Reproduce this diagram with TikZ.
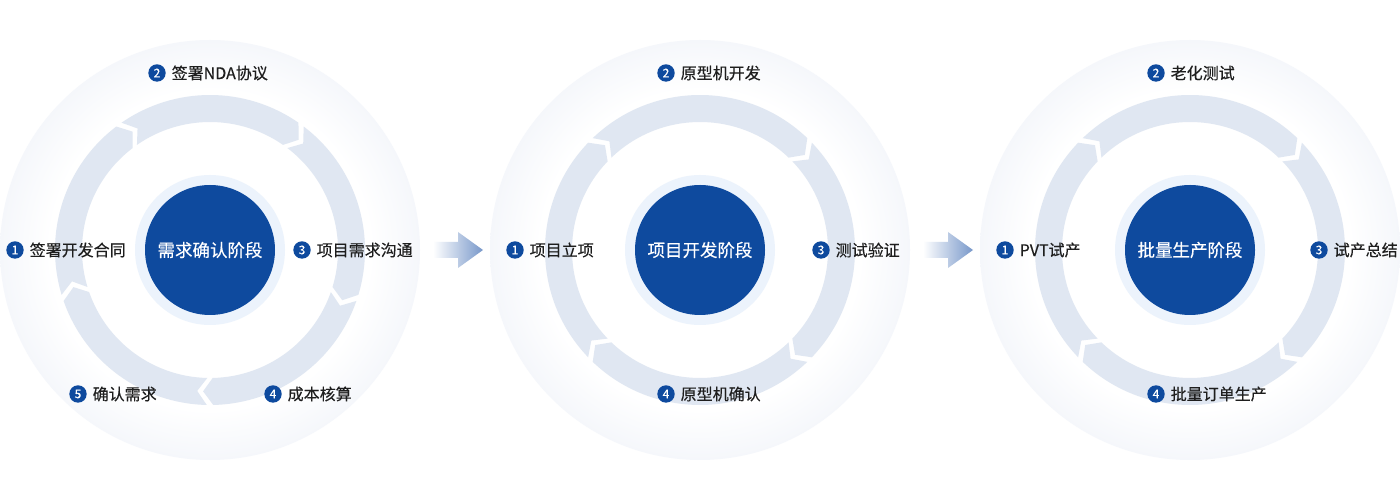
\documentclass[tikz,border=0pt]{standalone}
\usepackage{fontspec}
\newfontfamily\cjk{Noto Sans CJK SC}
\newfontfamily\cjkm[FakeBold=0.35]{Noto Sans CJK SC}
\usetikzlibrary{calc}
\definecolor{mainblue}{RGB}{14,74,158}
\definecolor{txt}{RGB}{30,30,30}
\definecolor{segcol}{RGB}{224,231,242}
\definecolor{halo}{RGB}{236,243,252}
\definecolor{arrowblue}{RGB}{120,152,202}
\definecolor{gA}{RGB}{245,247,251}
\definecolor{gB}{RGB}{232,237,245}
\definecolor{gC}{RGB}{231,236,244}
\definecolor{gD}{RGB}{239,242,248}
\definecolor{gE}{RGB}{245,247,251}
\pgfdeclareradialshading{glow}{\pgfpointorigin}{color(0bp)=(white); color(19bp)=(white); color(25bp)=(gA); color(30.5bp)=(gB); color(37bp)=(gC); color(44bp)=(gD); color(50bp)=(gE)}
\newcommand\hg{1.2}
\newcommand\dl{4}
\newcommand\segarrow[2]{%
  \fill[segcol] ({#1-\hg}:155pt) arc[start angle={#1-\hg}, end angle={#2+\hg}, radius=155pt]
    -- ({#2+\hg-\dl}:141.5pt) -- ({#2+\hg}:128pt)
    arc[start angle={#2+\hg}, end angle={#1-\hg}, radius=128pt]
    -- ({#1-\hg-\dl}:141.5pt) -- cycle;}
\newcommand\steplabel[4]{%
  \node[badge] (#1b) at (#2) {#3};
  \node[lbl, anchor=west] (#1t) at ([xshift=14.5pt]#1b.center) {#4};}
\tikzset{
  glowdisk/.style={shading=glow},
  core/.style={circle, fill=mainblue, minimum size=130pt, inner sep=0pt, text=white,
    font=\cjkm\fontsize{17.5pt}{17.5pt}\selectfont},
  badge/.style={circle, fill=mainblue, minimum size=17.4pt, inner sep=0pt, text=white,
    font=\cjkm\fontsize{12pt}{12pt}\selectfont},
  lbl/.style={inner sep=0pt, text=txt, font=\cjkm\fontsize{16pt}{16pt}\selectfont},
  flowarrow/.style={left color=white, right color=arrowblue}
}
\begin{document}
\begin{tikzpicture}[x=1pt,y=1pt]
\fill[white] (0,0) rectangle (1400,500);
\useasboundingbox (0,0) rectangle (1400,500);
% stage discs
\foreach \cx in {210,700,1190}{
  \shade[glowdisk] (\cx,250) circle (210pt);
  \fill[halo] (\cx,250) circle (75pt);
}
% ring arrows stage 1
\begin{scope}[shift={(210,250)}]
  \segarrow{126}{54}
  \segarrow{54}{-18}
  \segarrow{-18}{-90}
  \segarrow{-90}{-162}
  \segarrow{198}{126}
\end{scope}
\foreach \cx in {700,1190}{
\begin{scope}[shift={(\cx,250)}]
  \segarrow{135}{45}
  \segarrow{45}{-45}
  \segarrow{-45}{-135}
  \segarrow{225}{135}
\end{scope}
}
% cores
\node[core] (c1) at (210,250) {需求确认阶段};
\node[core] (c2) at (700,250) {项目开发阶段};
\node[core] (c3) at (1190,250) {批量生产阶段};
% flow arrows
\shade[flowarrow] (433,242) -- (458,242) -- (458,232) -- (483,250) -- (458,268) -- (458,258) -- (433,258) -- cycle;
\shade[flowarrow] (923,242) -- (948,242) -- (948,232) -- (973,250) -- (948,268) -- (948,258) -- (923,258) -- cycle;
% labels stage 1
\steplabel{a1}{15,250}{1}{签署开发合同}
\steplabel{a2}{157,427}{2}{签署NDA协议}
\steplabel{a3}{302,250}{3}{项目需求沟通}
\steplabel{a4}{273,106}{4}{成本核算}
\steplabel{a5}{78,106}{5}{确认需求}
% labels stage 2
\steplabel{b1}{515,250}{1}{项目立项}
\steplabel{b2}{666,427}{2}{原型机开发}
\steplabel{b3}{821,250}{3}{测试验证}
\steplabel{b4}{666,106}{4}{原型机确认}
% labels stage 3
\steplabel{d1}{1005,250}{1}{PVT试产}
\steplabel{d2}{1156,427}{2}{老化测试}
\steplabel{d3}{1319,250}{3}{试产总结}
\steplabel{d4}{1156,106}{4}{批量订单生产}
\end{tikzpicture}
\end{document}
